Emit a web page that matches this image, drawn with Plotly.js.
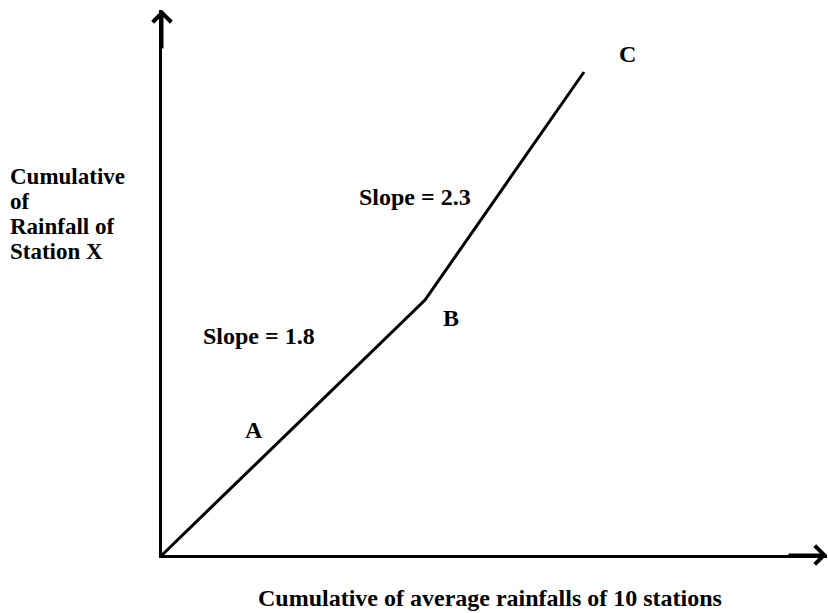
<!DOCTYPE html>
<html><head><meta charset="utf-8">
<script src="https://cdn.plot.ly/plotly-3.0.1.min.js"></script>
<style>html,body{margin:0;padding:0;background:#fff}</style>
</head><body><div id="chart" style="width:828px;height:613px"></div>
<script>
// Cumulative curve: origin, break point B, end point C
const xValues = [0, 263, 422];
const yValues = [0, 255, 483];
const pointLabels = ['A', 'B', 'C'];
const labelX = [92, 289, 465];
const labelY = [125, 237, 501];
const slopeTexts = ['Slope = 1.8', 'Slope = 2.3'];
const slopeX = [97, 253];
const slopeY = [219, 358];
const xTitle = 'Cumulative of average rainfalls of 10 stations';
const yTitleLines = ['Cumulative', 'of', 'Rainfall of', 'Station X'];
const yTitleRows = [176, 201, 226, 251]; // pixel rows of each line centre

const font = {family: 'Liberation Serif, Times New Roman, serif', size: 24, color: '#000'};
const yFont = {family: 'Liberation Serif, Times New Roman, serif', size: 23, color: '#000'};
const ann = [];
pointLabels.forEach((t, i) => ann.push({x: labelX[i], y: labelY[i], xref: 'x', yref: 'y', text: '<b>' + t + '</b>', showarrow: false, font: font}));
slopeTexts.forEach((t, i) => ann.push({x: slopeX[i], y: slopeY[i], xref: 'x', yref: 'y', text: '<b>' + t + '</b>', showarrow: false, font: font}));
ann.push({x: (490 - 162) / 665, y: (555 - 598) / 545, xref: 'paper', yref: 'paper', xanchor: 'center', yanchor: 'middle', text: '<b>' + xTitle + '</b>', showarrow: false, font: font});
yTitleLines.forEach((t, i) => ann.push({x: (8 - 162) / 665, y: (555 - yTitleRows[i]) / 545, xref: 'paper', yref: 'paper', xanchor: 'left', yanchor: 'middle', align: 'left', height: 22, valign: 'middle', text: '<b>' + t + '</b>', showarrow: false, font: yFont}));
// axis arrowheads
ann.push({x: 0, y: 1, xref: 'paper', yref: 'paper', ax: 0, ay: 40, text: '', showarrow: true, arrowhead: 4, arrowsize: 1.2, arrowwidth: 3, arrowcolor: '#000'});
ann.push({x: 1, y: 0, xref: 'paper', yref: 'paper', ax: -40, ay: 0, text: '', showarrow: true, arrowhead: 4, arrowsize: 1.2, arrowwidth: 3, arrowcolor: '#000'});

Plotly.newPlot('chart', [{
  x: xValues, y: yValues, type: 'scatter', mode: 'lines',
  line: {color: '#000', width: 3}, hoverinfo: 'skip'
}], {
  width: 828, height: 613,
  margin: {l: 162, r: 1, t: 10, b: 58},
  paper_bgcolor: '#fff', plot_bgcolor: '#fff',
  showlegend: false,
  xaxis: {range: [0, 665], showgrid: false, zeroline: false, showticklabels: false, ticks: '', showline: true, linewidth: 3, linecolor: '#000', fixedrange: true},
  yaxis: {range: [0, 545], showgrid: false, zeroline: false, showticklabels: false, ticks: '', showline: true, linewidth: 3, linecolor: '#000', fixedrange: true},
  annotations: ann
}, {staticPlot: true});
</script></body></html>
